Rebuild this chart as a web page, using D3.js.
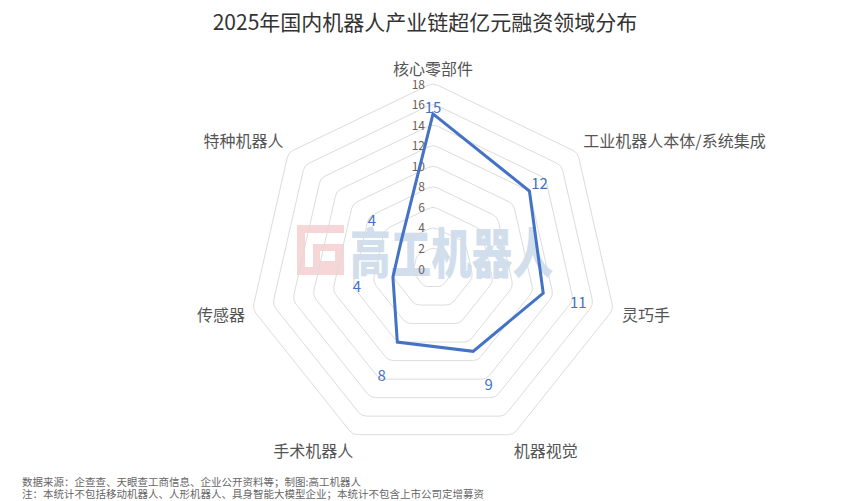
<!DOCTYPE html>
<html><head><meta charset="utf-8">
<script src="https://cdn.jsdelivr.net/npm/d3@7"></script>
<style>
html,body{margin:0;padding:0;background:#fff;}
svg{display:block;font-family:"Noto Sans CJK SC","Noto Sans",sans-serif;}
</style></head>
<body>
<script>
const categories = ["核心零部件","工业机器人本体/系统集成","灵巧手","机器视觉","手术机器人","传感器","特种机器人"];
const values = [15,12,11,9,8,4,4];
const tickValues = [0,2,4,6,8,10,12,14,16,18];
const title = "2025年国内机器人产业链超亿元融资领域分布";
const notes = ["数据来源：企查查、天眼查工商信息、企业公开资料等；制图:高工机器人",
               "注：本统计不包括移动机器人、人形机器人、具身智能大模型企业；本统计不包含上市公司定增募资"];
const labelOffsets = [7,13,36,36,36,37,37];

const W=850,H=501,cx=433,cy=268,R=185;
const svg=d3.select("body").append("svg").attr("width",W).attr("height",H);
const r=d3.scaleLinear().domain([0,18]).range([0,R]);
const n=categories.length;
const ang=i=>i*2*Math.PI/n;
const pt=(i,rad)=>[cx+rad*Math.sin(ang(i)), cy-rad*Math.cos(ang(i))];

// title
svg.append("text").attr("x",425).attr("y",21).attr("text-anchor","middle")
  .attr("dominant-baseline","central").attr("font-size",21).attr("fill","#333").text(title);

// watermark
const wm=svg.append("g").attr("opacity",0.85);
wm.append("rect").attr("x",297).attr("y",225).attr("width",47).attr("height",50).attr("fill","#f6cfd2");
wm.append("rect").attr("x",305).attr("y",233).attr("width",39).attr("height",34).attr("fill","#fff");
wm.append("rect").attr("x",313).attr("y",244).attr("width",31).attr("height",23).attr("fill","#f6cfd2");
wm.append("rect").attr("x",320).attr("y",251).attr("width",15).attr("height",10).attr("fill","#fff");
wm.append("text").attr("x",350).attr("y",250).attr("dominant-baseline","central")
  .attr("font-size",54).attr("font-weight",900).attr("fill","#c9d9eb")
  .attr("textLength",203).attr("lengthAdjust","spacingAndGlyphs").text("高工机器人");

// grid rings with slightly rounded corners
function roundedPoly(pts,d){
  let p="";
  const m=pts.length;
  for(let k=0;k<m;k++){
    const P=pts[k],A=pts[(k-1+m)%m],B=pts[(k+1)%m];
    const la=Math.hypot(A[0]-P[0],A[1]-P[1]), lb=Math.hypot(B[0]-P[0],B[1]-P[1]);
    const dd=Math.min(d,la*0.2,lb*0.2);
    const p1=[P[0]+(A[0]-P[0])*dd/la,P[1]+(A[1]-P[1])*dd/la];
    const p2=[P[0]+(B[0]-P[0])*dd/lb,P[1]+(B[1]-P[1])*dd/lb];
    p+=(k===0?"M":"L")+p1[0]+","+p1[1]+"Q"+P[0]+","+P[1]+" "+p2[0]+","+p2[1];
  }
  return p+"Z";
}
const grid=svg.append("g");
tickValues.filter(v=>v>0).forEach(v=>{
  const pts=d3.range(n).map(i=>pt(i,r(v)));
  grid.append("path").attr("d",roundedPoly(pts,5)).attr("fill","none")
    .attr("stroke","#dcdcdc").attr("stroke-width",1);
});

// tick labels
svg.append("g").selectAll("text").data(tickValues).join("text")
  .attr("x",cx-8).attr("y",d=>cy-r(d)).attr("text-anchor","end")
  .attr("dominant-baseline","central").attr("font-size",12).attr("fill","#6b6058")
  .text(d=>d);

// axis names
svg.append("g").selectAll("text").data(categories).join("text")
  .each(function(d,i){
    const a=ang(i), s=Math.sin(a), c=Math.cos(a);
    let [x,y]=pt(i,R+15);
    let anchor="middle";
    if(s>0.1){anchor="start";x-=6;}
    else if(s<-0.1){anchor="end";x+=7;}
    if(Math.abs(s)>0.1){ y += c>0 ? -3.5 : 1.5; }
    d3.select(this).attr("x",x).attr("y",y).attr("text-anchor",anchor)
      .attr("dominant-baseline","central").attr("font-size",16).attr("fill","#555").text(d);
  });

// series
const line=d3.lineRadial().angle((d,i)=>ang(i)).radius(d=>r(d)).curve(d3.curveLinearClosed);
svg.append("path").datum(values).attr("transform",`translate(${cx},${cy})`)
  .attr("d",line).attr("fill","none").attr("stroke","#4472c4").attr("stroke-width",3)
  .attr("stroke-linejoin","miter");

// data labels
svg.append("g").selectAll("text").data(values).join("text")
  .each(function(d,i){
    const [x,y]=pt(i,r(d)+labelOffsets[i]);
    d3.select(this).attr("x",x).attr("y",y).attr("text-anchor","middle")
      .attr("dominant-baseline","central").attr("font-size",15).attr("fill","#4472c4").text(d);
  });

// notes
svg.append("g").selectAll("text").data(notes).join("text")
  .attr("x",22).attr("y",(d,i)=>481+i*12.5).attr("dominant-baseline","central")
  .attr("font-size",10.5).attr("fill","#666").text(d=>d);
</script>
</body></html>
